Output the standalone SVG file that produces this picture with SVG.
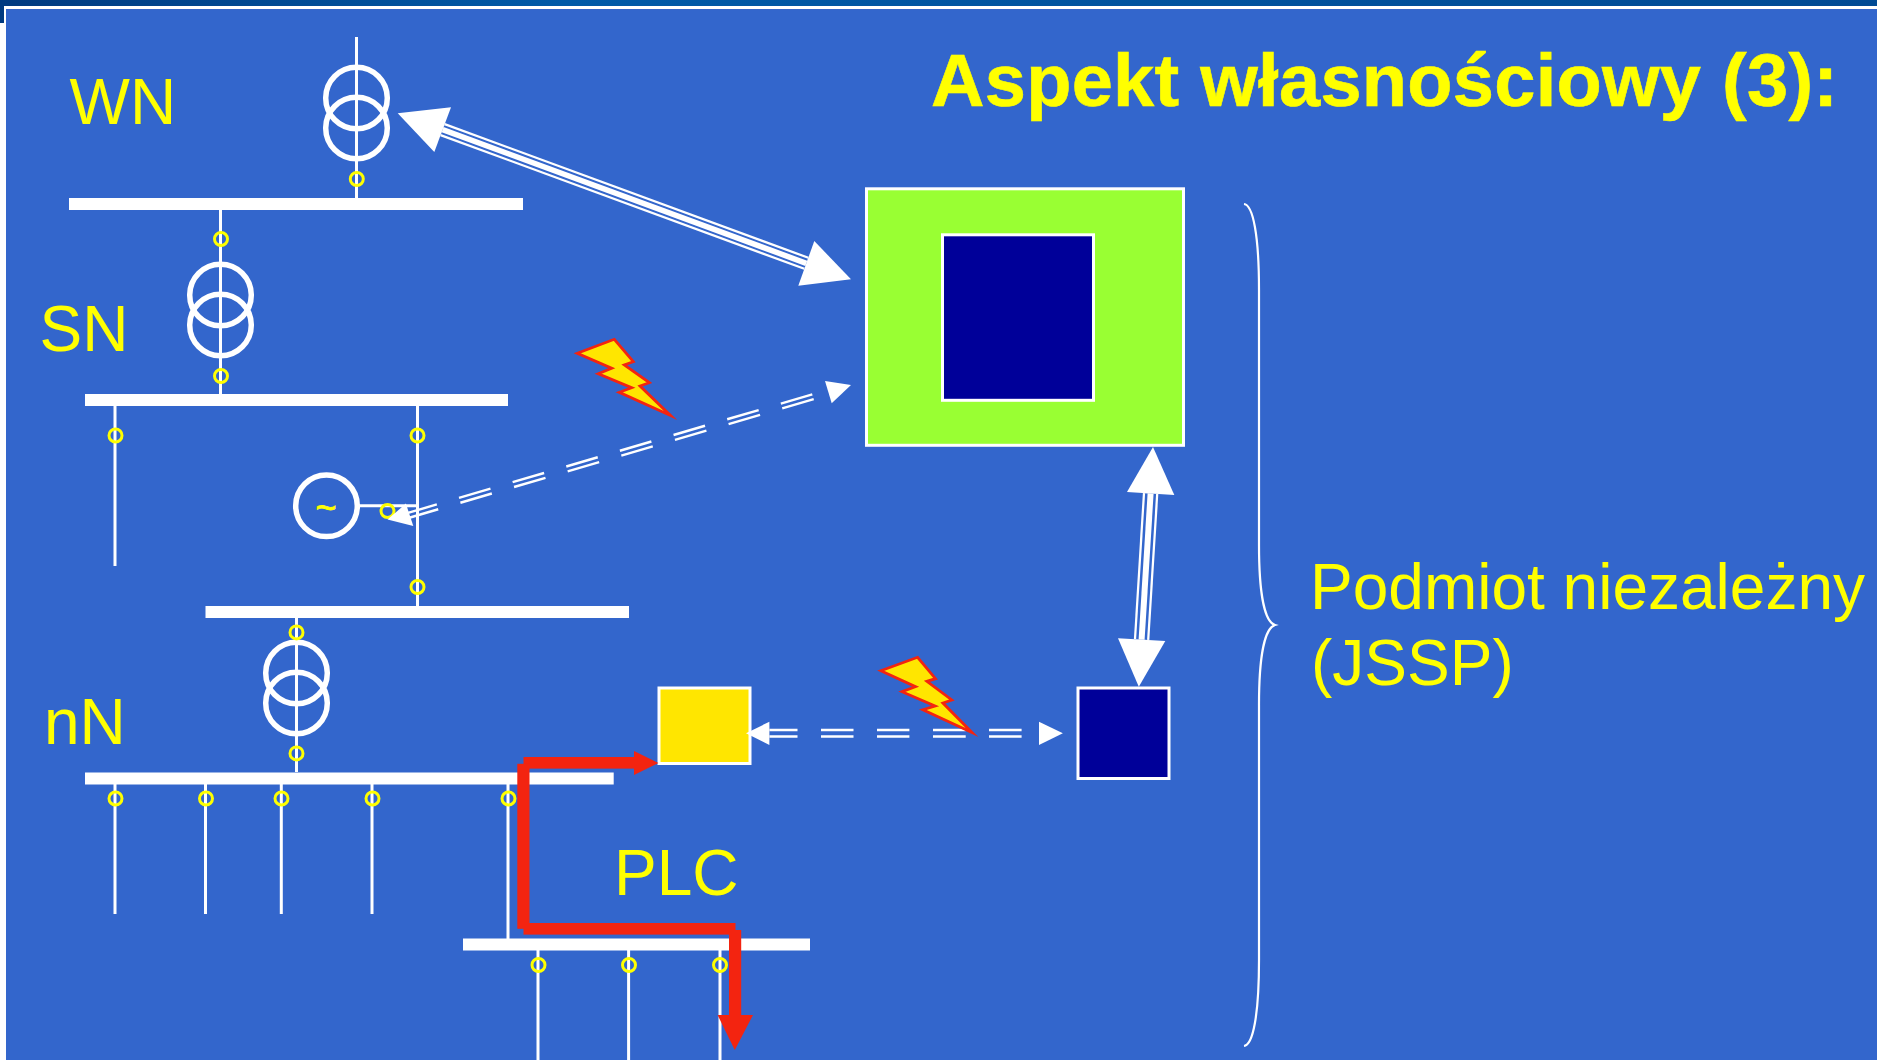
<svg xmlns="http://www.w3.org/2000/svg" width="1877" height="1060" viewBox="0 0 1877 1060">
<style>
.bar{fill:#fff}
.wire{stroke:#fff;stroke-width:3;fill:none}
.ring{stroke:#fff;stroke-width:5.5;fill:none}
.tap{stroke:#ff0;stroke-width:3;fill:none}
.lbl{font-family:"Liberation Sans",Arial,sans-serif;font-size:64px;fill:#ff0}
.head{fill:#fff}
.bolt{fill:#ffe600;stroke:#f32410;stroke-width:2.8;stroke-miterlimit:12}
.red{fill:#f32410}
.dash{stroke:#fff;stroke-width:2.4;stroke-dasharray:32.8 23.1;fill:none}
.box{stroke:#fff;stroke-width:3}
</style>
<defs>
<linearGradient id="top" x1="0" y1="0" x2="1" y2="0"><stop offset="0" stop-color="#003a80"/><stop offset="0.3" stop-color="#005aa8"/><stop offset="1" stop-color="#004a94"/></linearGradient>
<g id="xf"><circle cx="0" cy="0" r="30.8" class="ring"/><circle cx="0" cy="30" r="30.8" class="ring"/></g>
<circle id="t" r="6.5" class="tap"/>
</defs>
<rect width="1877" height="1060" fill="#fff"/>
<rect width="1877" height="6" fill="url(#top)"/>
<rect y="6" width="4" height="17" fill="#003a80"/>
<rect x="4" y="7" width="1873" height="2" fill="#fff"/>
<rect x="6" y="9" width="1871" height="1051" fill="#3366cc"/>

<g id="network">
<path class="wire" d="M356.5 37V198M220.5 210V394M115 406V566M417.5 406V606M296.5 618V772M115 784V914M205.5 784V914M281.3 784V914M372 784V914M508 784V939M538 950V1060M628.6 950V1060M720 950V1060"/>
<path class="wire" d="M358 505.8H417.5"/>
<rect class="bar" x="69" y="198" width="454" height="12"/>
<rect class="bar" x="85" y="394" width="423" height="12"/>
<rect class="bar" x="205.5" y="606" width="423.5" height="12"/>
<rect class="bar" x="85" y="772.5" width="528.7" height="12"/>
<rect class="bar" x="463" y="938.5" width="347" height="12"/>
<use href="#xf" x="356.5" y="98"/>
<use href="#xf" x="220.5" y="295"/>
<use href="#xf" x="296.5" y="673"/>
<circle cx="326.5" cy="505.8" r="30.8" class="ring"/>
<text x="326" y="520" text-anchor="middle" font-family="Liberation Sans,Arial,sans-serif" font-size="36" fill="#ff0" stroke="#ff0" stroke-width="0.8">~</text>
<use href="#t" x="356.8" y="179"/>
<use href="#t" x="221" y="239"/>
<use href="#t" x="221" y="376"/>
<use href="#t" x="115.5" y="435.5"/>
<use href="#t" x="417.5" y="435.5"/>
<use href="#t" x="417.5" y="587"/>
<use href="#t" x="387.5" y="511"/>
<use href="#t" x="296.5" y="632.4"/>
<use href="#t" x="296.5" y="753.4"/>
<use href="#t" x="115.5" y="798.5"/>
<use href="#t" x="206" y="798.5"/>
<use href="#t" x="281.5" y="798.5"/>
<use href="#t" x="372.5" y="798.5"/>
<use href="#t" x="508.5" y="798.5"/>
<use href="#t" x="538.5" y="965"/>
<use href="#t" x="629" y="965"/>
<use href="#t" x="720" y="965"/>
</g>

<g id="labels">
<text class="lbl" x="69.5" y="124">WN</text>
<text class="lbl" x="39.5" y="351">SN</text>
<text class="lbl" x="44" y="743.5">nN</text>
<text class="lbl" x="614" y="895">PLC</text>
<text class="lbl" x="1310" y="608.5" textLength="555" lengthAdjust="spacingAndGlyphs">Podmiot niezależny</text>
<text class="lbl" x="1311" y="685">(JSSP)</text>
<text x="931" y="105.5" textLength="907" lengthAdjust="spacing" font-family="Liberation Sans,Arial,sans-serif" font-weight="bold" font-size="74" fill="#ff0" stroke="#ff0" stroke-width="0.6">Aspekt własnościowy (3):</text>
</g>

<g id="green-box"><rect class="box" x="866.5" y="188.8" width="317" height="256.5" fill="#99ff33"/></g>
<g id="inner-navy"><rect class="box" x="942.5" y="234.8" width="151" height="165.5" fill="#000099"/></g>
<g id="yellow-box"><rect class="box" x="659" y="688" width="91" height="75.5" fill="#ffe600"/></g>
<g id="navy-box"><rect class="box" x="1078" y="688" width="91" height="90.5" fill="#000099"/></g>

<g id="connectors">
<path d="M442.6 129.6L806.3 263.3" stroke="#fff" stroke-width="14" fill="none"/>
<path d="M442.6 129.6L806.3 263.3" stroke="#3366cc" stroke-width="9.5" fill="none"/>
<path d="M442.6 129.6L806.3 263.3" stroke="#fff" stroke-width="5.5" fill="none"/>
<polygon class="head" points="397.7,113.3 451,107.3 434.3,152"/>
<polygon class="head" points="851,279.3 814.3,241 798.3,285.7"/>

<path d="M1150.6 493.5L1141.6 639.6" stroke="#fff" stroke-width="15.5" fill="none"/>
<path d="M1150.6 493.5L1141.6 639.6" stroke="#3366cc" stroke-width="11" fill="none"/>
<path d="M1150.6 493.5L1141.6 639.6" stroke="#fff" stroke-width="6" fill="none"/>
<polygon class="head" points="1153,447 1127,492 1174.3,495"/>
<polygon class="head" points="1138.8,686.7 1118,638.3 1165.3,641"/>

<path class="dash" d="M812.3 394.3L404.3 514"/>
<path class="dash" d="M813.7 399.1L405.7 518.8"/>
<polygon class="head" points="851,385 825,381 831.7,403.3"/>
<polygon class="head" points="387.5,519.6 405.9,503.6 413.3,526"/>

<path d="M769.4 730H797.5M821 730H853.5M877 730H909.4M933 730H965.7M989 730H1021.6M769.4 736.5H797.5M821 736.5H853.5M877 736.5H909.4M933 736.5H965.7M989 736.5H1021.6" stroke="#fff" stroke-width="2.6" fill="none"/>
<polygon class="head" points="746,733.3 769.4,721.7 769.4,745"/>
<polygon class="head" points="1062.9,733.3 1039,721.7 1039,745"/>

<rect class="red" x="523.5" y="757" width="111" height="11.6"/>
<polygon class="red" points="658.4,763 634,751 634,775"/>
<rect class="red" x="517.3" y="763.8" width="12.2" height="165"/>
<rect class="red" x="523.5" y="923" width="212" height="11.6"/>
<rect class="red" x="729" y="930" width="12.2" height="86"/>
<polygon class="red" points="717.6,1015 753,1015 734.8,1050"/>

<path d="M1244 204C1253 205 1259 235 1259 290V545C1259 595 1265 622 1275 625C1265 628 1259 655 1259 705V960C1259 1015 1253 1045 1244 1046" stroke="#fff" stroke-width="2.2" fill="none"/>
</g>

<g id="bolt-1"><polygon class="bolt" points="577.3,353.3 614.3,339.3 633.3,361.7 624.3,365 649.3,382.7 640,386 670.5,415.5 619.3,392.3 631.7,387.7 598.3,373.7 611.7,368.3"/></g>
<g id="bolt-2"><polygon class="bolt" points="880.8,670.7 917.6,657.3 935.5,678.7 926.9,681.3 951.8,700 942.9,703 972,732.5 922.9,709.7 935.1,706 902,691.7 915.5,686.7"/></g>
</svg>
